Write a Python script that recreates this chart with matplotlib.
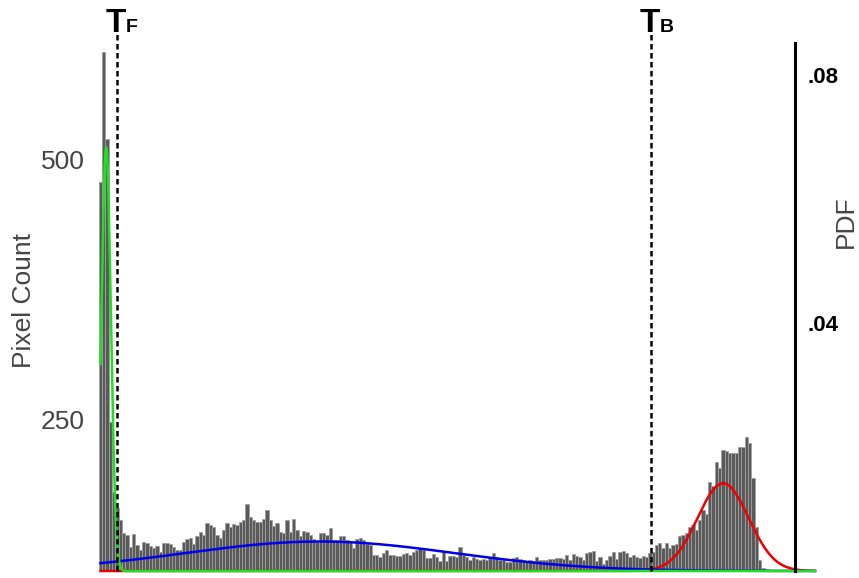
import numpy as np
import matplotlib
matplotlib.use('Agg')
import matplotlib.pyplot as plt
import matplotlib.transforms as mtransforms

plt.rcParams['font.family'] = 'Liberation Sans'

# histogram counts per grey level bin
counts_a = [479, 604, 520, 248, 181, 165, 154, 141, 139, 128,
            140, 130, 125, 133, 132, 129, 127, 129, 123, 132,
            132, 131, 128, 125, 125, 133, 136, 137, 131, 138,
            142, 139, 151, 149, 147, 139, 137, 144, 151, 147, 150]
counts_b = [149, 152, 154, 169, 157, 154, 152, 152, 155, 163,
            154, 148, 151, 142, 141, 154, 142, 155, 144, 138,
            143, 142, 139, 136, 133, 141, 141, 139, 146, 135,
            135, 138, 138, 135, 133, 127, 136, 137, 135, 131, 130, 120]
counts_c = [120, 118, 122, 125, 120, 120, 119, 119, 121, 122,
            120, 123, 125, 126, 125, 117, 117, 121, 118, 114,
            123, 114, 119, 119, 118, 128, 120, 118, 115, 118,
            116, 115, 116, 115, 118, 122, 118, 115, 115, 113, 113, 117]
counts_d = [118, 116, 115, 114, 115, 114, 118, 115, 115, 115,
            116, 116, 117, 117, 116, 120, 115, 121, 119, 118,
            115, 122, 123, 124, 114, 118, 112, 115, 119, 123,
            116, 123, 124, 122, 118, 120, 118, 117, 119, 118, 122, 123]
counts_e = [130, 132, 127, 132, 127, 130, 131, 138, 139, 141,
            147, 149, 144, 154, 163, 160, 190, 187, 210, 204,
            221, 220, 218, 218, 218, 224, 224, 234, 228, 194,
            147, 115, 108, 107, 106]
counts = counts_a + counts_b + counts_c + counts_d + counts_e
bins = np.arange(len(counts))

# fitted gaussian components: (mean, sigma, peak pdf)
green_fit = (1.7, 1.42, 0.0684)
blue_fit = (65.9, 40.5, 0.00476)
red_fit = (187.0, 7.66, 0.01415)

# thresholds
t_f = 4.95
t_b = 165.3

fig = plt.figure(figsize=(8.59, 5.78), dpi=100)
ax = fig.add_axes([99 / 859, 7 / 578, 696 / 859, 528 / 578])

ax.bar(bins, counts, width=1.0, color='#5a5a5a', edgecolor='#a0a0a0', linewidth=0.6)
ax.set_xlim(-0.45, 208.6)
ax.set_ylim(104.8, 612.5)
ax.set_yticks([250, 500])
ax.set_yticklabels(['250', '500'], fontsize=19, color='#444444')
ax.tick_params(axis='y', length=0, pad=10)
ax.set_xticks([])
for s in ['left', 'top', 'bottom', 'right']:
    ax.spines[s].set_visible(False)

ax2 = ax.twinx()
ax2.set_ylim(0, 0.0852)
ax2.set_yticks([0.04, 0.08])
ax2.set_yticklabels(['.04', '.08'], fontsize=16, fontweight='bold')
ax2.tick_params(axis='y', length=0, pad=9)
for s in ['left', 'top', 'bottom']:
    ax2.spines[s].set_visible(False)
ax2.spines['right'].set_linewidth(2.2)

# pdf curves
x = np.linspace(0, 214.6, 2000)
for (mu, sd, peak), col in [(red_fit, '#ee0000'), (blue_fit, '#0000ee'), (green_fit, '#1fe01f')]:
    ax2.plot(x, peak * np.exp(-(x - mu) ** 2 / (2 * sd ** 2)), color=col, lw=1.8, clip_on=False)

# threshold lines and labels
trans = mtransforms.blended_transform_factory(ax2.transData, fig.transFigure)
for t, sub in [(t_f, 'F'), (t_b, 'B')]:
    ax2.axvline(t, ymin=0, ymax=1.019, color='black', lw=1.8, dashes=(2.2, 1.4), clip_on=False)
    ax2.text(t - 0.3, 1 - 32 / 578, 'T', transform=trans, ha='center', va='baseline',
             fontsize=24, fontweight='bold')
    ax2.text(t + 2.7, 1 - 32 / 578, sub, transform=trans, ha='left', va='baseline',
             fontsize=14, fontweight='bold')

fig.text(24 / 859, 1 - 301 / 578, 'Pixel Count', rotation=90, ha='center', va='center',
         fontsize=19, color='#444444')
fig.text(846 / 859, 1 - 222 / 578, 'PDF', rotation=90, ha='center', va='center',
         fontsize=19, color='#444444')

plt.savefig('out.png', dpi=100)
